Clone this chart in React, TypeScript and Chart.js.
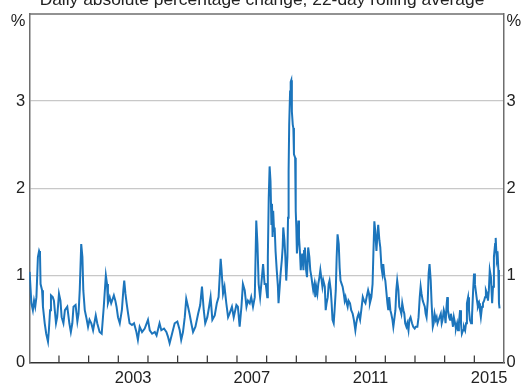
import React, { useEffect, useRef } from 'react';
import { Chart, registerables } from 'chart.js';

Chart.register(...registerables);

const FONT = "'Liberation Sans', Arial, sans-serif";
const TITLE = 'Daily absolute percentage change, 22-day rolling average';
const yearLabels = [2003, 2007, 2011, 2015];
const xMin = 2000;
const xMax = 2016;
const yMin = 0;
const yMax = 4;

// 2000 – 2003
const yearsA = [
  2000.01, 2000.07, 2000.12, 2000.16, 2000.20, 2000.24, 2000.29, 2000.33, 2000.36, 2000.38,
  2000.43, 2000.46, 2000.52, 2000.57, 2000.63, 2000.66, 2000.70, 2000.73, 2000.79, 2000.83,
  2000.90, 2000.94, 2001.00, 2001.05, 2001.09, 2001.15, 2001.20, 2001.28, 2001.35, 2001.40,
  2001.45, 2001.49, 2001.56, 2001.62, 2001.66, 2001.70, 2001.75, 2001.79, 2001.82, 2001.87,
  2001.92, 2001.98, 2002.03, 2002.09, 2002.15, 2002.24, 2002.29, 2002.37, 2002.44, 2002.51,
  2002.58, 2002.62, 2002.65, 2002.71, 2002.76, 2002.85, 2002.90, 2002.94, 2002.99, 2003.05,
  2003.12, 2003.17, 2003.20, 2003.24, 2003.28, 2003.33, 2003.38, 2003.46, 2003.53, 2003.61,
  2003.66, 2003.72, 2003.80, 2003.89,
];
const valuesA = [
  1.04, 0.68, 0.60, 0.71, 0.64, 0.75, 1.21, 1.28, 1.25, 0.90,
  0.83, 0.64, 0.45, 0.33, 0.24, 0.37, 0.60, 0.77, 0.75, 0.71,
  0.45, 0.52, 0.79, 0.71, 0.52, 0.45, 0.60, 0.64, 0.45, 0.35,
  0.45, 0.64, 0.66, 0.47, 0.56, 0.83, 1.36, 1.21, 0.83, 0.60,
  0.52, 0.41, 0.49, 0.45, 0.37, 0.54, 0.45, 0.35, 0.33, 0.64,
  1.00, 0.90, 0.68, 0.75, 0.68, 0.77, 0.71, 0.64, 0.52, 0.45,
  0.60, 0.83, 0.94, 0.79, 0.68, 0.56, 0.45, 0.43, 0.45, 0.35,
  0.26, 0.41, 0.35, 0.39,
];

// 2004 – 2007
const yearsB = [
  2004.00, 2004.06, 2004.14, 2004.23, 2004.29, 2004.39, 2004.45, 2004.54, 2004.62, 2004.67,
  2004.73, 2004.79, 2004.90, 2004.99, 2005.07, 2005.12, 2005.18, 2005.24, 2005.29, 2005.35,
  2005.40, 2005.46, 2005.52, 2005.60, 2005.69, 2005.76, 2005.82, 2005.88, 2005.93, 2006.00,
  2006.06, 2006.11, 2006.17, 2006.25, 2006.32, 2006.38, 2006.45, 2006.48, 2006.53, 2006.58,
  2006.64, 2006.70, 2006.75, 2006.83, 2006.89, 2006.98, 2007.03, 2007.09, 2007.15, 2007.20,
  2007.26, 2007.32, 2007.37, 2007.43, 2007.48, 2007.54, 2007.60, 2007.65, 2007.69, 2007.73,
  2007.78, 2007.82, 2007.88, 2007.93, 2007.97,
];
const valuesB = [
  0.49, 0.37, 0.33, 0.35, 0.31, 0.45, 0.37, 0.39, 0.35, 0.30,
  0.22, 0.30, 0.45, 0.47, 0.37, 0.26, 0.35, 0.52, 0.73, 0.64,
  0.56, 0.45, 0.35, 0.41, 0.56, 0.66, 0.87, 0.60, 0.45, 0.52,
  0.64, 0.75, 0.49, 0.54, 0.68, 0.75, 1.19, 1.06, 0.79, 0.87,
  0.68, 0.52, 0.56, 0.64, 0.52, 0.66, 0.64, 0.41, 0.64, 0.90,
  0.83, 0.64, 0.71, 0.68, 0.75, 0.64, 0.75, 1.63, 1.36, 0.90,
  0.75, 0.90, 1.13, 0.90, 0.90,
];

// 2008 – 2011
const yearsC = [
  2008.02, 2008.04, 2008.07, 2008.10, 2008.13, 2008.16, 2008.18, 2008.20, 2008.22, 2008.25,
  2008.27, 2008.30, 2008.34, 2008.38, 2008.40, 2008.44, 2008.47, 2008.51, 2008.54, 2008.56,
  2008.60, 2008.63, 2008.66, 2008.70, 2008.72, 2008.74, 2008.76, 2008.79, 2008.81, 2008.83,
  2008.85, 2008.88, 2008.90, 2008.92, 2008.96, 2008.98, 2009.00, 2009.02, 2009.04, 2009.07,
  2009.09, 2009.12, 2009.15, 2009.17, 2009.20, 2009.24, 2009.26, 2009.29, 2009.33, 2009.36,
  2009.40, 2009.44, 2009.47, 2009.51, 2009.54, 2009.57, 2009.61, 2009.64, 2009.67, 2009.71,
  2009.74, 2009.78, 2009.81, 2009.84, 2009.88, 2009.91, 2009.96, 2009.99, 2010.02, 2010.06,
  2010.09, 2010.12, 2010.16, 2010.19, 2010.22, 2010.26, 2010.29, 2010.33, 2010.36, 2010.39,
  2010.43, 2010.46, 2010.49, 2010.53, 2010.56, 2010.60, 2010.63, 2010.66, 2010.70, 2010.73,
  2010.76, 2010.81, 2010.85, 2010.90, 2010.94, 2010.99, 2011.02, 2011.06, 2011.10, 2011.15,
  2011.19, 2011.24, 2011.28, 2011.33, 2011.37, 2011.42, 2011.45, 2011.48, 2011.53, 2011.57,
  2011.60, 2011.63, 2011.66, 2011.70, 2011.73, 2011.76, 2011.80, 2011.83, 2011.87, 2011.90,
  2011.93, 2011.97,
];
const valuesC = [
  0.75, 1.21, 1.89, 2.25, 2.08, 1.59, 1.82, 1.44, 1.74, 1.51,
  1.55, 1.28, 1.06, 0.87, 0.68, 0.87, 1.02, 1.17, 1.32, 1.55,
  1.40, 1.21, 0.94, 1.21, 1.66, 2.20, 2.73, 3.11, 3.22, 3.24,
  2.88, 2.73, 2.69, 2.39, 2.35, 1.74, 1.55, 1.25, 1.36, 1.63,
  1.44, 1.28, 1.06, 1.17, 1.25, 1.06, 1.28, 1.32, 1.06, 0.98,
  1.32, 1.21, 1.06, 0.98, 0.90, 0.83, 0.90, 0.75, 0.87, 0.79,
  0.90, 0.98, 1.06, 0.98, 0.87, 0.94, 0.87, 0.60, 0.68, 0.75,
  0.90, 0.94, 0.83, 0.68, 0.49, 0.45, 0.60, 0.83, 1.21, 1.47,
  1.36, 1.09, 0.94, 0.90, 0.87, 0.79, 0.71, 0.75, 0.68, 0.64,
  0.71, 0.68, 0.60, 0.56, 0.49, 0.37, 0.45, 0.52, 0.56, 0.49,
  0.60, 0.75, 0.71, 0.68, 0.75, 0.83, 0.79, 0.68, 0.75, 0.90,
  1.28, 1.62, 1.51, 1.28, 1.44, 1.58, 1.40, 1.32, 1.09, 1.02,
  1.13, 0.98,
];

// 2012 – 2015
const yearsD = [
  2012.00, 2012.03, 2012.07, 2012.10, 2012.13, 2012.17, 2012.20, 2012.24, 2012.27, 2012.30,
  2012.34, 2012.37, 2012.40, 2012.44, 2012.47, 2012.51, 2012.54, 2012.57, 2012.61, 2012.64,
  2012.67, 2012.71, 2012.74, 2012.78, 2012.81, 2012.85, 2012.90, 2012.94, 2012.99, 2013.03,
  2013.08, 2013.12, 2013.16, 2013.19, 2013.22, 2013.26, 2013.29, 2013.33, 2013.36, 2013.39,
  2013.43, 2013.46, 2013.49, 2013.53, 2013.56, 2013.60, 2013.63, 2013.66, 2013.70, 2013.73,
  2013.76, 2013.80, 2013.83, 2013.87, 2013.90, 2013.93, 2013.97, 2014.00, 2014.03, 2014.07,
  2014.09, 2014.11, 2014.15, 2014.18, 2014.21, 2014.25, 2014.28, 2014.31, 2014.35, 2014.38,
  2014.42, 2014.45, 2014.48, 2014.52, 2014.55, 2014.58, 2014.62, 2014.65, 2014.69, 2014.72,
  2014.75, 2014.79, 2014.82, 2014.85, 2014.89, 2014.92, 2014.96, 2014.99, 2015.02, 2015.06,
  2015.09, 2015.12, 2015.16, 2015.19, 2015.22, 2015.26, 2015.29, 2015.33, 2015.36, 2015.39,
  2015.43, 2015.46, 2015.49, 2015.52, 2015.56, 2015.60, 2015.63, 2015.66, 2015.70, 2015.72,
  2015.74, 2015.76, 2015.79, 2015.81, 2015.83, 2015.85,
];
const valuesD = [
  0.94, 0.83, 0.68, 0.60, 0.75, 0.60, 0.56, 0.49, 0.41, 0.49,
  0.60, 0.83, 0.94, 0.83, 0.64, 0.60, 0.56, 0.68, 0.60, 0.56,
  0.45, 0.41, 0.45, 0.37, 0.49, 0.52, 0.45, 0.41, 0.39, 0.41,
  0.41, 0.52, 0.75, 0.87, 0.79, 0.71, 0.68, 0.64, 0.56, 0.52,
  0.71, 1.02, 1.13, 0.94, 0.68, 0.41, 0.45, 0.56, 0.49, 0.52,
  0.45, 0.49, 0.52, 0.56, 0.45, 0.49, 0.60, 0.56, 0.45, 0.68,
  0.75, 0.60, 0.52, 0.49, 0.56, 0.49, 0.41, 0.52, 0.45, 0.39,
  0.45, 0.37, 0.45, 0.60, 0.45, 0.33, 0.37, 0.41, 0.37, 0.45,
  0.68, 0.75, 0.60, 0.49, 0.45, 0.52, 0.83, 1.02, 0.90, 0.79,
  0.71, 0.64, 0.68, 0.60, 0.52, 0.64, 0.68, 0.71, 0.75, 0.83,
  0.79, 0.71, 0.83, 1.06, 0.98, 0.68, 0.87, 1.21, 1.36, 1.43,
  1.28, 1.17, 1.21, 1.06, 0.68, 0.62,
];

const allYears = [...yearsA, ...yearsB, ...yearsC, ...yearsD];
const allValues = [...valuesA, ...valuesB, ...valuesC, ...valuesD];

const TEXT = '#222222';
const FRAME = '#6e6e6e';
const AXIS = '#333333';
const GRID = '#c8c8c8';
const LINE = '#1c75bc';
const FONT_SIZE = 16.5;
const TITLE_SIZE = 17.4;

const framePlugin = {
  id: 'framePlugin',
  afterDraw(chart: any) {
    const { ctx, chartArea: a, scales } = chart;
    const xs = scales.x;
    ctx.save();
    // top border of the frame
    ctx.strokeStyle = FRAME;
    ctx.lineWidth = 1.5;
    ctx.beginPath();
    ctx.moveTo(a.left, a.top);
    ctx.lineTo(a.right, a.top);
    ctx.stroke();
    // inward yearly tick marks
    ctx.strokeStyle = AXIS;
    ctx.lineWidth = 1.2;
    for (let yr = xMin + 1; yr < xMax; yr++) {
      const px = xs.getPixelForValue(yr);
      ctx.beginPath();
      ctx.moveTo(px, a.bottom);
      ctx.lineTo(px, a.bottom - 7);
      ctx.stroke();
    }
    // unit labels
    ctx.fillStyle = TEXT;
    ctx.font = `${FONT_SIZE}px ${FONT}`;
    ctx.textBaseline = 'middle';
    ctx.textAlign = 'right';
    ctx.fillText('%', a.left - 4, a.top + 8);
    ctx.textAlign = 'left';
    ctx.fillText('%', a.right + 2.5, a.top + 8);
    // title (partly cut at the top)
    ctx.font = `${TITLE_SIZE}px ${FONT}`;
    ctx.textAlign = 'center';
    ctx.textBaseline = 'alphabetic';
    ctx.fillText(TITLE, 262, 4.5);
    ctx.restore();
  },
};

export default function App() {
  const ref = useRef<HTMLCanvasElement>(null);

  useEffect(() => {
    if (!ref.current) return;
    const data = allYears.map((x, i) => ({ x, y: allValues[i] }));
    const tickFont = { family: FONT, size: FONT_SIZE };
    const chart = new Chart(ref.current, {
      type: 'line',
      data: {
        datasets: [
          {
            data,
            borderColor: LINE,
            backgroundColor: LINE,
            borderWidth: 2,
            pointRadius: 0,
            fill: false,
            tension: 0,
          },
        ],
      },
      options: {
        animation: false,
        responsive: false,
        devicePixelRatio: 1,
        layout: { padding: { top: 12.3, left: 0, right: 0, bottom: 0 } },
        plugins: {
          legend: { display: false },
          title: { display: false },
          tooltip: { enabled: false },
        },
        scales: {
          x: {
            type: 'linear',
            position: 'bottom',
            min: xMin,
            max: xMax,
            grid: { display: false, drawTicks: false },
            border: { display: true, color: AXIS, width: 1.5 },
            ticks: {
              font: tickFont,
              color: TEXT,
              padding: 6,
              autoSkip: false,
              maxRotation: 0,
              callback: (v: any) => String(Math.floor(Number(v))),
            },
            afterBuildTicks: (s: any) => {
              s.ticks = yearLabels.map((y) => ({ value: y + 0.5 }));
            },
            afterFit: (s: any) => {
              s.height = 27.5;
            },
          },
          y: {
            type: 'linear',
            position: 'left',
            min: yMin,
            max: yMax,
            grid: {
              drawTicks: false,
              lineWidth: 1.2,
              color: (c: any) =>
                c.tick && c.tick.value > yMin && c.tick.value < yMax ? GRID : 'rgba(0,0,0,0)',
            },
            border: { display: true, color: FRAME, width: 1.5 },
            ticks: {
              stepSize: 1,
              font: tickFont,
              color: TEXT,
              padding: 4,
              callback: (v: any) => (Number(v) === yMax ? '' : String(v)),
            },
            afterFit: (s: any) => {
              s.width = 29.3;
            },
          },
          y2: {
            type: 'linear',
            position: 'right',
            min: yMin,
            max: yMax,
            grid: { display: false, drawTicks: false },
            border: { display: true, color: FRAME, width: 1.5 },
            ticks: {
              stepSize: 1,
              font: tickFont,
              color: TEXT,
              padding: 2.5,
              callback: (v: any) => (Number(v) === yMax ? '' : String(v)),
            },
            afterFit: (s: any) => {
              s.width = 26;
            },
          },
        },
      },
      plugins: [framePlugin],
    });
    return () => chart.destroy();
  }, []);

  return (
    <div style={{ position: 'fixed', left: 0, top: 0, width: 530, height: 390, background: '#fff' }}>
      <canvas ref={ref} width={530} height={390} style={{ display: 'block' }} />
    </div>
  );
}
